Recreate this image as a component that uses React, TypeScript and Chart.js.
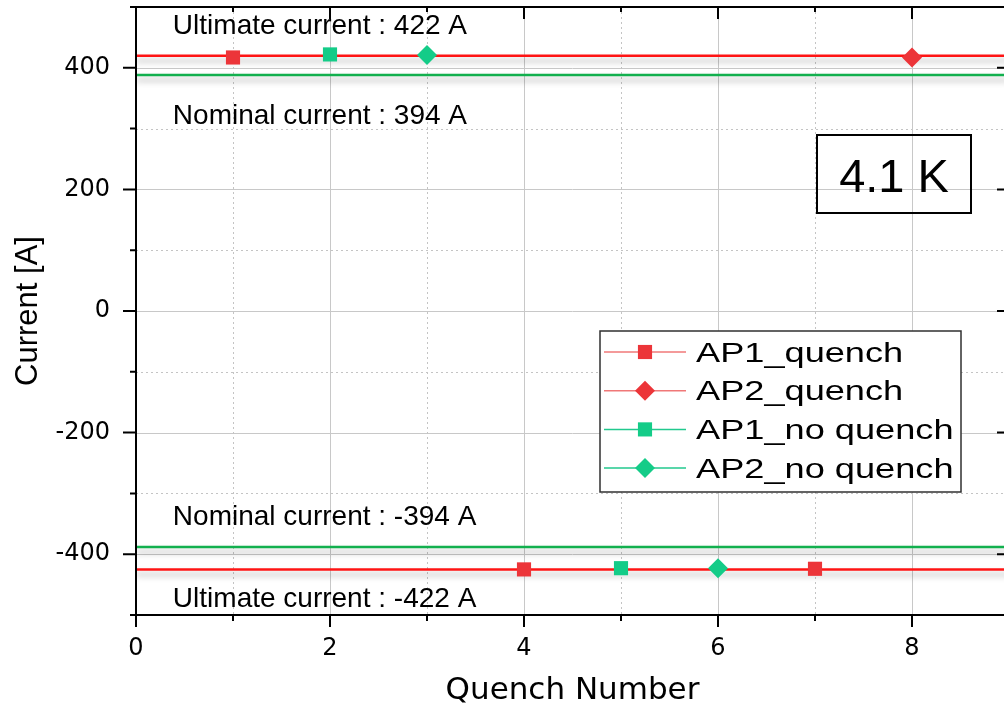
import React, { useEffect, useRef } from 'react';
import { Chart, registerables } from 'chart.js';
Chart.register(...registerables);

// ---------- data ----------
const seriesLabels = ['AP1_quench', 'AP2_quench', 'AP1_no quench', 'AP2_no quench'];
const ap1QuenchX = [1, 4, 7];
const ap1QuenchY = [417, -425, -424];
const ap2QuenchX = [8];
const ap2QuenchY = [417];
const ap1NoQuenchX = [2, 5];
const ap1NoQuenchY = [422, -423];
const ap2NoQuenchX = [3, 6];
const ap2NoQuenchY = [421, -423];

const refLabels = ['Ultimate current : 422 A', 'Nominal current : 394 A', 'Nominal current : -394 A', 'Ultimate current : -422 A'];
const refLevels = [420, 388, -388, -425];
const refKinds = ['ultimate', 'nominal', 'nominal', 'ultimate'];

const xRange = [0, 9];
const yRange = [-500, 500];
const xTickLabels = ['0', '2', '4', '6', '8'];
const yTickLabels = ['-400', '-200', '0', '200', '400'];
const tempLabel = '4.1 K';
const xTitle = 'Quench Number';
const yTitle = 'Current [A]';

// ---------- styles ----------
const RED_LINE = '#ff1414';
const GREEN_LINE = '#12b04e';
const RED_MARK = '#ec3539';
const GREEN_MARK = '#14cc88';
const RED_LEG = '#f07878';
const GREEN_LEG = '#22c98e';

const pts = (xs: number[], ys: number[]) => xs.map((x, i) => ({ x, y: ys[i] }));

const markerSeries = [
  { xs: ap1QuenchX, ys: ap1QuenchY, color: RED_MARK, leg: RED_LEG, style: 'rect' },
  { xs: ap2QuenchX, ys: ap2QuenchY, color: RED_MARK, leg: RED_LEG, style: 'rectRot' },
  { xs: ap1NoQuenchX, ys: ap1NoQuenchY, color: GREEN_MARK, leg: GREEN_LEG, style: 'rect' },
  { xs: ap2NoQuenchX, ys: ap2NoQuenchY, color: GREEN_MARK, leg: GREEN_LEG, style: 'rectRot' },
];

const drawMarker = (ctx: CanvasRenderingContext2D, style: string, cx: number, cy: number, r: number, color: string) => {
  ctx.fillStyle = color;
  ctx.beginPath();
  if (style === 'rect') {
    const s = r * Math.SQRT1_2;
    ctx.rect(cx - s, cy - s, 2 * s, 2 * s);
  } else {
    ctx.moveTo(cx, cy - r);
    ctx.lineTo(cx + r, cy);
    ctx.lineTo(cx, cy + r);
    ctx.lineTo(cx - r, cy);
    ctx.closePath();
  }
  ctx.fill();
};

const shadowPlugin = {
  id: 'lineShadow',
  beforeDatasetDraw(chart: any, args: any) {
    const ds = chart.data.datasets[args.index];
    if (!ds.shadow) return;
    const ctx = chart.ctx;
    ctx.save();
    ctx.shadowColor = 'rgba(0,0,0,0.30)';
    ctx.shadowBlur = 6;
    ctx.shadowOffsetY = 5;
  },
  afterDatasetDraw(chart: any, args: any) {
    const ds = chart.data.datasets[args.index];
    if (!ds.shadow) return;
    chart.ctx.restore();
  },
};

const framePlugin = {
  id: 'frame',
  beforeDatasetsDraw(chart: any) {
    const { ctx, chartArea: a, scales } = chart;
    const x = scales.x, y = scales.y;
    ctx.save();
    ctx.lineWidth = 1;
    for (const t of y.ticks) {
      const v = t.value;
      if (v <= y.min || v >= y.max) continue;
      const py = Math.round(y.getPixelForValue(v)) + 0.5;
      const major = v % 200 === 0;
      ctx.strokeStyle = major ? '#c8c8c8' : '#c4c4c4';
      ctx.setLineDash(major ? [] : [2, 3]);
      ctx.beginPath(); ctx.moveTo(a.left, py); ctx.lineTo(a.right, py); ctx.stroke();
    }
    for (const t of x.ticks) {
      const v = t.value;
      if (v <= x.min || v >= x.max) continue;
      const px = Math.round(x.getPixelForValue(v)) + 0.5;
      const major = v % 2 === 0;
      ctx.strokeStyle = major ? '#c8c8c8' : '#c4c4c4';
      ctx.setLineDash(major ? [] : [2, 3]);
      ctx.beginPath(); ctx.moveTo(px, a.top); ctx.lineTo(px, a.bottom); ctx.stroke();
    }
    ctx.restore();
  },
  afterDraw(chart: any) {
    const { ctx, chartArea: a, scales } = chart;
    const x = scales.x, y = scales.y;
    ctx.save();
    ctx.strokeStyle = '#000';
    ctx.lineWidth = 2;
    ctx.strokeRect(a.left, a.top, a.right - a.left, a.bottom - a.top);
    ctx.beginPath();
    for (const t of y.ticks) {
      const v = t.value;
      const py = y.getPixelForValue(v);
      const major = v % 200 === 0;
      ctx.moveTo(a.left, py); ctx.lineTo(a.left - (major ? 13 : 6), py);
      ctx.moveTo(a.right, py); ctx.lineTo(a.right - (major ? 12 : 5), py);
    }
    for (const t of x.ticks) {
      const v = t.value;
      const px = x.getPixelForValue(v);
      const major = v % 2 === 0;
      ctx.moveTo(px, a.bottom); ctx.lineTo(px, a.bottom + (major ? 12 : 6));
      ctx.moveTo(px, a.top); ctx.lineTo(px, a.top + (major ? 12 : 5));
    }
    ctx.stroke();
    ctx.restore();
  },
};

const annotatePlugin = {
  id: 'annotate',
  afterDraw(chart: any, _args: any, opts: any) {
    const { ctx, scales } = chart;
    const x = scales.x, y = scales.y;
    ctx.save();
    ctx.fillStyle = '#000';
    ctx.font = '28px "Liberation Sans", Arial, sans-serif';
    ctx.textAlign = 'left';
    ctx.textBaseline = 'alphabetic';
    refLabels.forEach((txt, i) => {
      ctx.fillText(txt, x.getPixelForValue(opts.labelX), y.getPixelForValue(opts.labelY[i]));
    });
    // temperature box
    const b = opts.tempBox;
    ctx.lineWidth = 2;
    ctx.strokeStyle = '#000';
    ctx.strokeRect(b.x, b.y, b.w, b.h);
    ctx.font = '47px "Liberation Sans", Arial, sans-serif';
    ctx.textAlign = 'center';
    ctx.fillText(tempLabel, b.x + b.w / 2, b.y + 57);
    ctx.restore();
  },
};

const legendPlugin = {
  id: 'customLegend',
  afterDraw(chart: any, _args: any, opts: any) {
    const ctx = chart.ctx;
    const b = opts.box;
    ctx.save();
    ctx.fillStyle = '#fff';
    ctx.fillRect(b.x, b.y, b.w, b.h);
    ctx.strokeStyle = '#303030';
    ctx.lineWidth = 1.5;
    ctx.strokeRect(b.x, b.y, b.w, b.h);
    markerSeries.forEach((s, i) => {
      const cy = b.y + 21 + i * 38.7;
      ctx.strokeStyle = s.leg;
      ctx.lineWidth = 1.5;
      ctx.beginPath();
      ctx.moveTo(b.x + 4, cy); ctx.lineTo(b.x + 86, cy);
      ctx.stroke();
      drawMarker(ctx, s.style, b.x + 45, cy, 10, s.color);
      ctx.save();
      ctx.translate(b.x + 96, cy + 9.5);
      ctx.scale(1.34, 1);
      ctx.fillStyle = '#000';
      ctx.font = '27px "Liberation Sans", Arial, sans-serif';
      ctx.textAlign = 'left';
      ctx.fillText(seriesLabels[i], 0, 0);
      ctx.restore();
    });
    ctx.restore();
  },
};

const zeroPad = (s: any) => {
  s.paddingTop = 0;
  s.paddingBottom = 0;
  s.paddingLeft = 0;
  s.paddingRight = 0;
};

export default function App() {
  const ref = useRef<HTMLCanvasElement>(null);
  useEffect(() => {
    const datasets: any[] = [];
    markerSeries.forEach((s, i) => {
      datasets.push({
        type: 'scatter',
        label: seriesLabels[i],
        data: pts(s.xs, s.ys),
        pointStyle: s.style,
        pointRadius: 10,
        pointBackgroundColor: s.color,
        pointBorderColor: s.color,
        pointBorderWidth: 0,
        showLine: false,
        order: 0,
      });
    });
    refLevels.forEach((lvl, i) => {
      datasets.push({
        type: 'line',
        label: refLabels[i],
        data: [{ x: xRange[0], y: lvl }, { x: xRange[1], y: lvl }],
        borderColor: refKinds[i] === 'ultimate' ? RED_LINE : GREEN_LINE,
        borderWidth: 2.5,
        pointRadius: 0,
        fill: false,
        shadow: true,
        order: 1,
      });
    });

    const chart = new Chart(ref.current as HTMLCanvasElement, {
      type: 'scatter',
      data: { datasets },
      options: {
        animation: false,
        responsive: false,
        devicePixelRatio: 1,
        layout: { autoPadding: false, padding: { top: 7, right: 3, left: 0, bottom: 0 } },
        plugins: {
          legend: { display: false },
          tooltip: { enabled: false },
          annotate: {
            labelX: 0.38,
            labelY: [455, 307, -352, -487],
            tempBox: { x: 817, y: 135, w: 154, h: 78 },
          },
          customLegend: { box: { x: 600, y: 331, w: 361, h: 161 } },
        } as any,
        scales: {
          x: {
            type: 'linear',
            min: xRange[0],
            max: xRange[1],
            afterFit: (s: any) => { s.height = 93; zeroPad(s); },
            grid: { display: false, drawTicks: false },
            border: { display: false },
            ticks: {
              stepSize: 1,
              padding: 19,
              color: '#000',
              font: { family: '"DejaVu Sans", sans-serif', size: 24 },
              maxRotation: 0,
              autoSkip: false,
              callback: (v: any) => (xTickLabels.includes(String(v)) ? String(v) : ''),
            },
            title: {
              display: true,
              text: xTitle,
              color: '#000',
              font: { family: '"DejaVu Sans", sans-serif', size: 31 },
              padding: { top: 0, bottom: -2 },
            },
          },
          y: {
            type: 'linear',
            min: yRange[0],
            max: yRange[1],
            afterFit: (s: any) => { s.width = 136; zeroPad(s); },
            grid: { display: false, drawTicks: false },
            border: { display: false },
            ticks: {
              stepSize: 100,
              padding: 26,
              color: '#000',
              font: { family: '"DejaVu Sans", sans-serif', size: 24 },
              autoSkip: false,
              callback: (v: any) => (yTickLabels.includes(String(v)) ? String(v) : ''),
            },
            title: {
              display: true,
              text: yTitle,
              color: '#000',
              font: { family: '"Liberation Sans", Arial, sans-serif', size: 31 },
              padding: { top: 10, bottom: 0 },
            },
          },
        },
      },
      plugins: [framePlugin, shadowPlugin, annotatePlugin, legendPlugin],
    } as any);
    return () => chart.destroy();
  }, []);

  return (
    <div style={{ position: 'fixed', left: 0, top: 0, width: 1004, height: 708, overflow: 'hidden', background: '#fff' }}>
      <canvas ref={ref} width={1012} height={708} style={{ display: 'block', width: 1012, height: 708 }} />
    </div>
  );
}
